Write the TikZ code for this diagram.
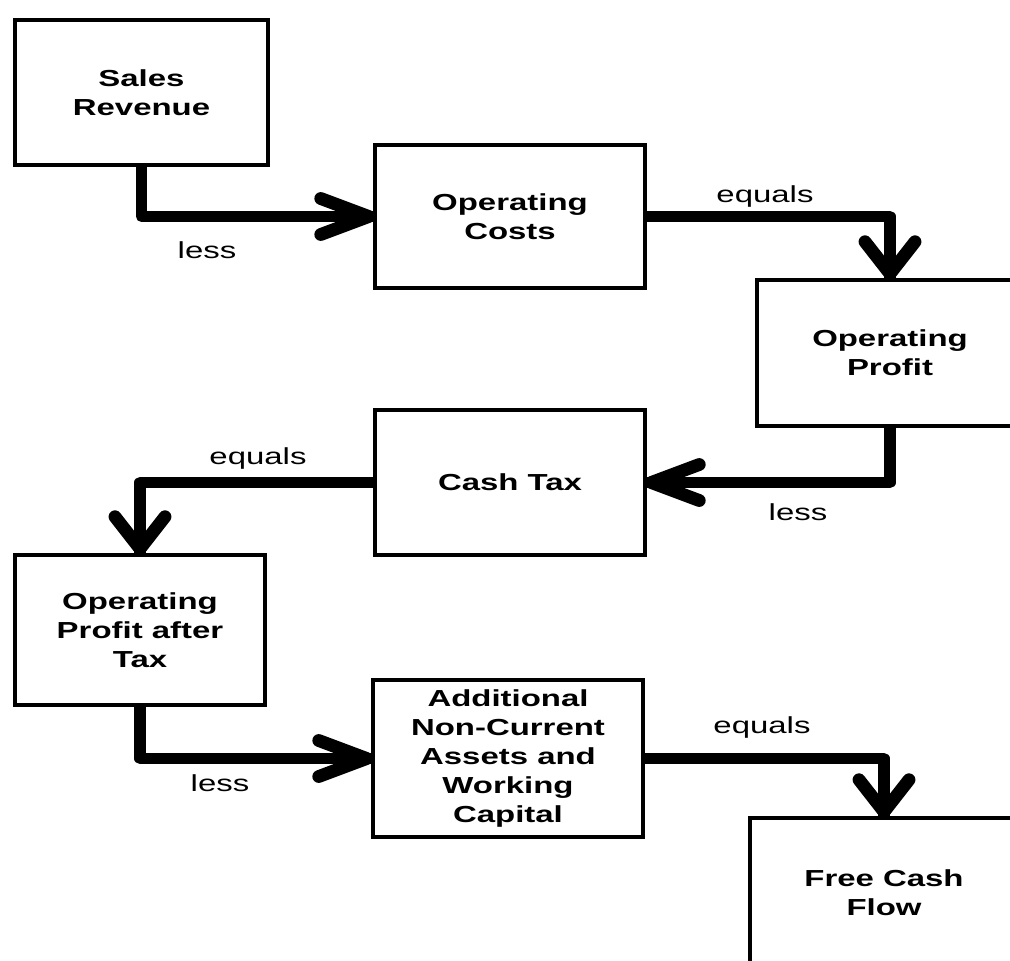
\documentclass[tikz,border=0pt]{standalone}
\usepackage{fontspec}
\setmainfont[FakeStretch=1.42]{Liberation Sans}
\usetikzlibrary{calc}
\begin{document}
\begin{tikzpicture}[x=0.02cm,y=-0.02cm,
  box/.style={draw, line width=2.6pt, inner sep=0pt, align=center,
    font=\fontsize{13.2}{16.4}\selectfont\bfseries},
  conn/.style={line width=6.3pt, line join=round},
  head/.style={line width=7.3pt, line cap=round, line join=round},
  lab/.style={anchor=base, inner sep=0pt, font=\fontsize{13.2}{16}\selectfont}]
\clip (0,0) rectangle (1010,960);
\fill[white] (0,0) rectangle (1010,960);
% boxes
\node[box, minimum width=5.06cm, minimum height=2.9cm]  (sr)   at (141.5,92.5) {Sales\\Revenue};
\node[box, minimum width=5.4cm,  minimum height=2.86cm] (oc)   at (510,216.5)  {Operating\\Costs};
\node[box, minimum width=5.32cm, minimum height=2.92cm] (op)   at (890,353)    {Operating\\Profit};
\node[box, minimum width=5.4cm,  minimum height=2.9cm]  (ct)   at (510,482.5)  {Cash Tax};
\node[box, minimum width=5.0cm,  minimum height=3.0cm]  (opat) at (140,630)    {Operating\\Profit after\\Tax};
\node[box, minimum width=5.4cm,  minimum height=3.14cm] (anca) at (508,758.5)  {Additional\\Non-Current\\Assets and\\Working\\Capital};
\node[box, minimum width=5.36cm, minimum height=3.0cm]  (fcf)  at (884,893)    {Free Cash\\Flow};
% connectors
\draw[conn] (sr.south) |- (oc.west);
\draw[head] ($(oc.west)+(-52,-18)$) -- ($(oc.west)+(-4,0)$) -- ($(oc.west)+(-52,18)$);
\draw[conn] (oc.east) -| (op.north);
\draw[head] ($(op.north)+(-25,-36)$) -- ($(op.north)+(0,-4)$) -- ($(op.north)+(25,-36)$);
\draw[conn] (op.south) |- (ct.east);
\draw[head] ($(ct.east)+(52,-18)$) -- ($(ct.east)+(4,0)$) -- ($(ct.east)+(52,18)$);
\draw[conn] (ct.west) -| (opat.north);
\draw[head] ($(opat.north)+(-25,-36)$) -- ($(opat.north)+(0,-4)$) -- ($(opat.north)+(25,-36)$);
\draw[conn] (opat.south) |- (anca.west);
\draw[head] ($(anca.west)+(-52,-18)$) -- ($(anca.west)+(-4,0)$) -- ($(anca.west)+(-52,18)$);
\draw[conn] (anca.east) -| (fcf.north);
\draw[head] ($(fcf.north)+(-25,-36)$) -- ($(fcf.north)+(0,-4)$) -- ($(fcf.north)+(25,-36)$);
% labels
\node[lab] (l1) at (207,258) {less};
\node[lab] (e1) at (765,202) {equals};
\node[lab] (l2) at (798,520) {less};
\node[lab] (e2) at (258,464) {equals};
\node[lab] (l3) at (220,791) {less};
\node[lab] (e3) at (762,733) {equals};
\end{tikzpicture}
\end{document}
